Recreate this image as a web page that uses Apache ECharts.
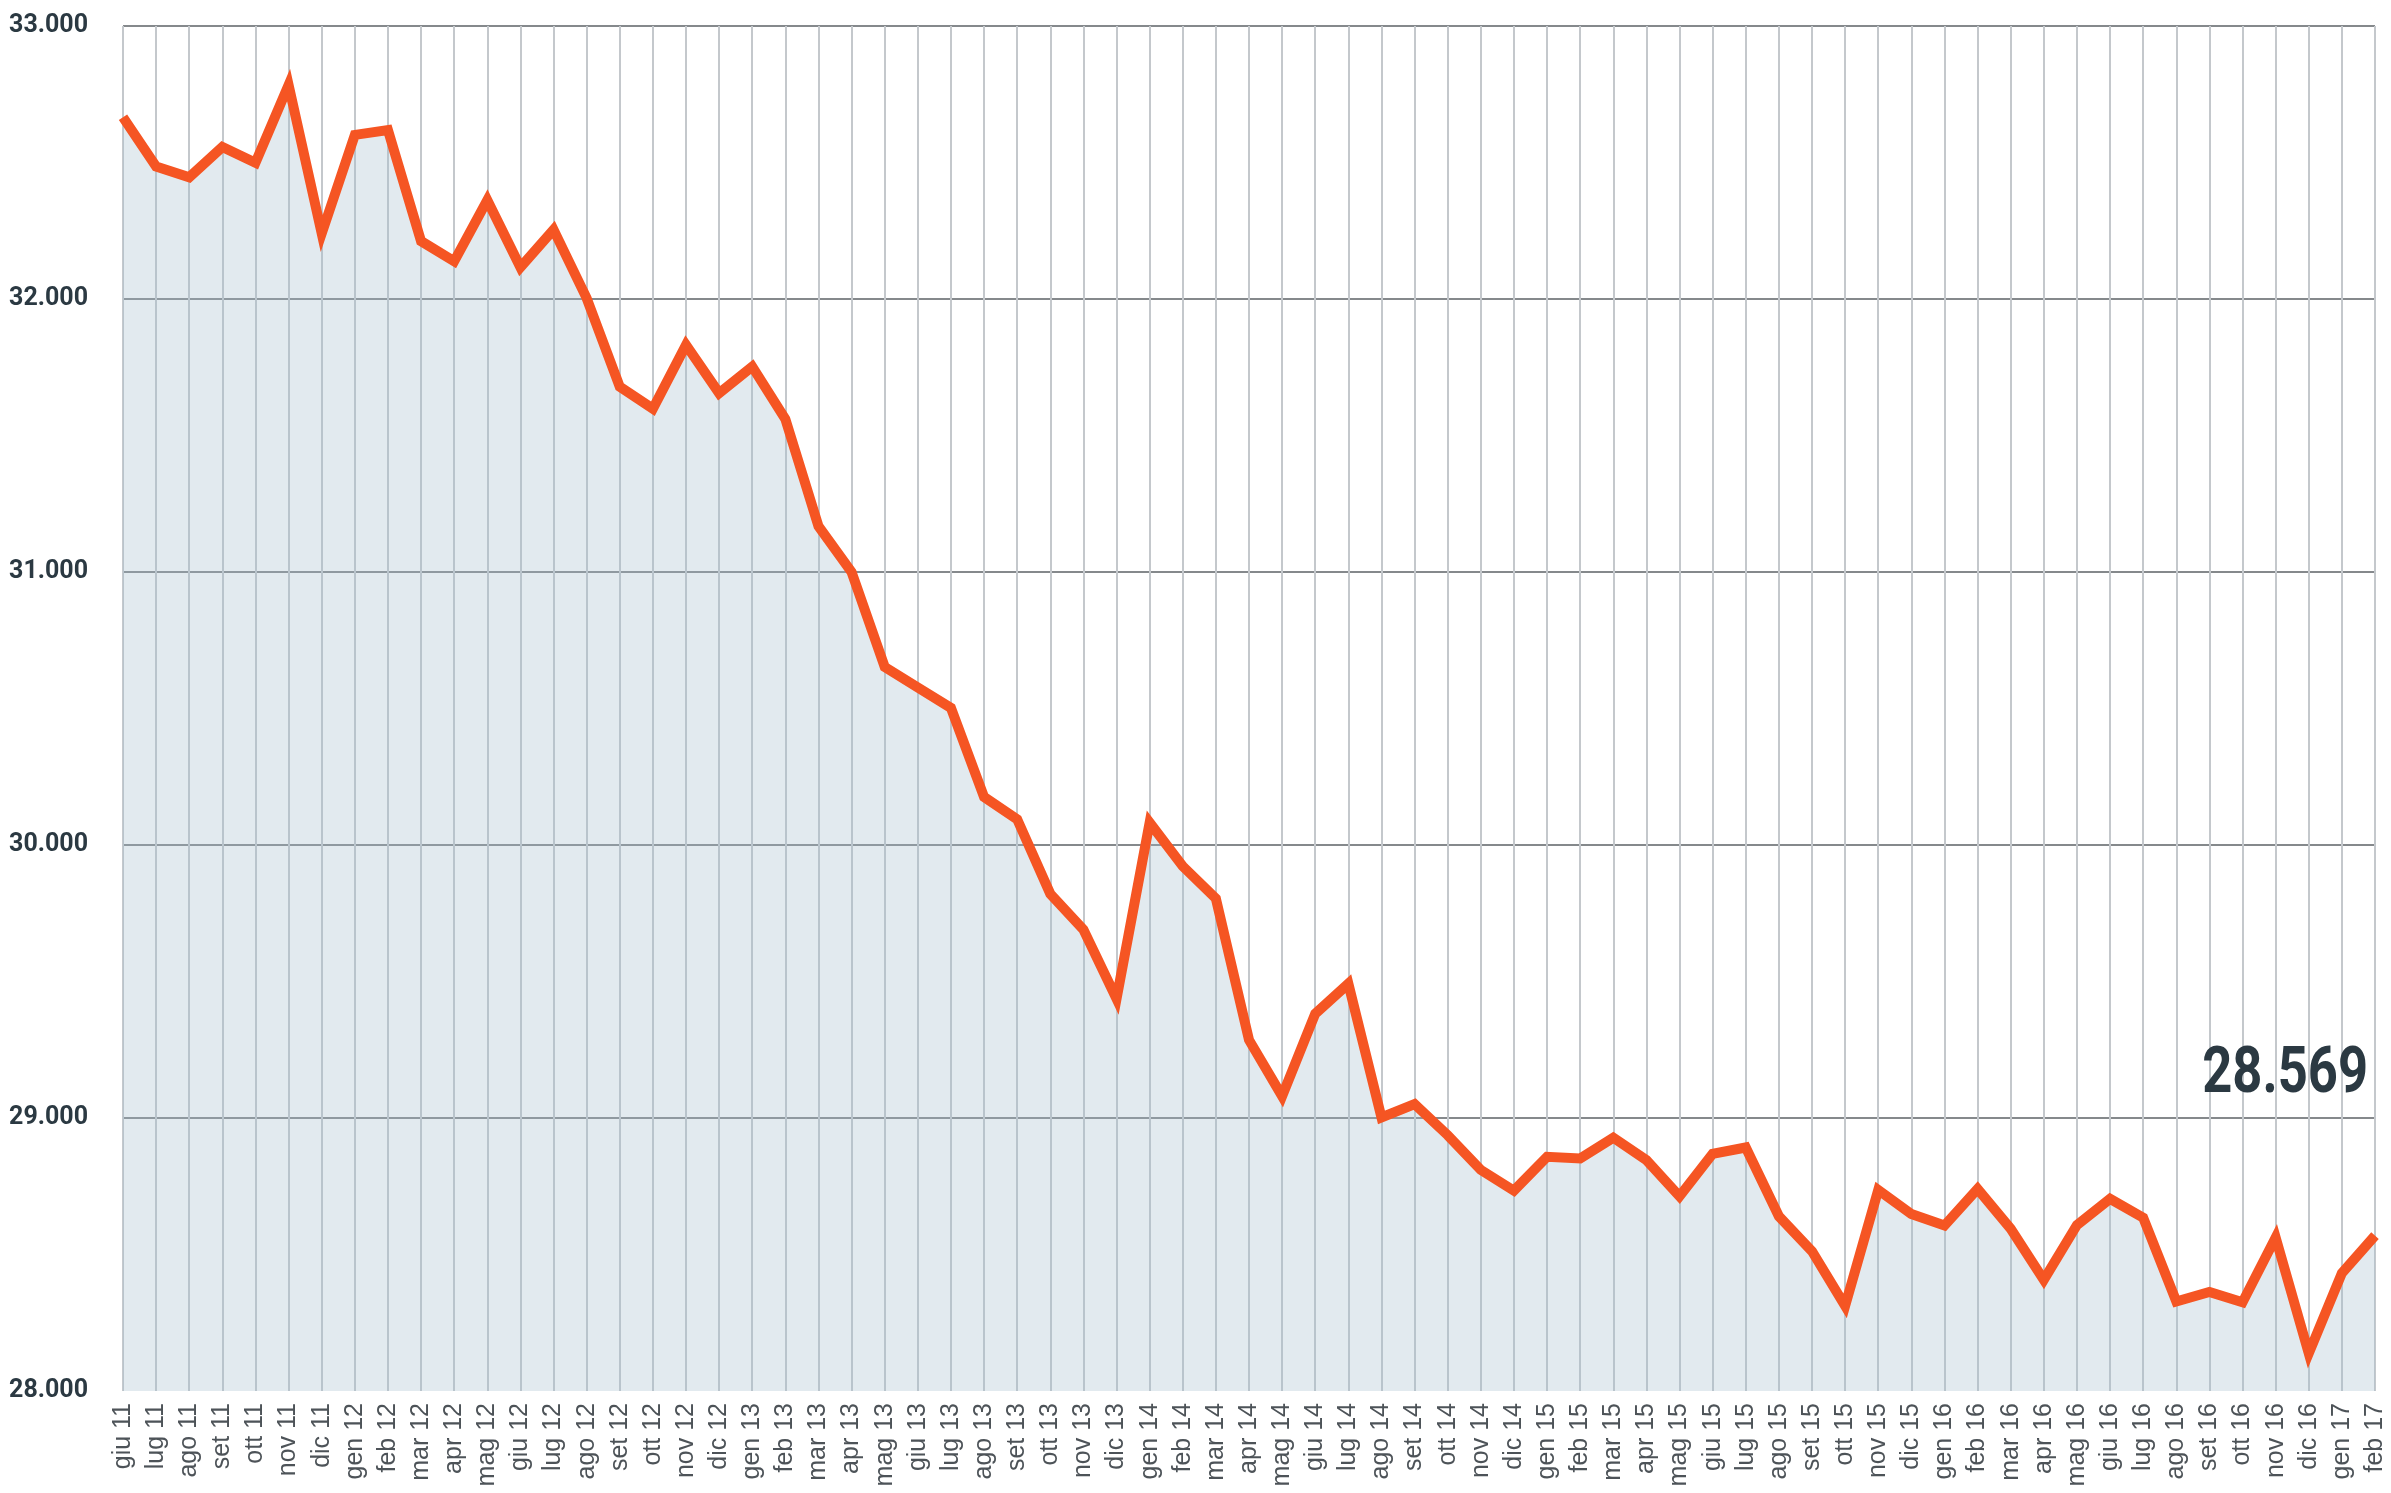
<!DOCTYPE html>
<html>
<head>
<meta charset="utf-8">
<script src="https://cdn.jsdelivr.net/npm/echarts@6/dist/echarts.min.js"></script>
<style>
  html, body { margin: 0; padding: 0; background: #fff; }
  #main { width: 2391px; height: 1493px; }
</style>
</head>
<body>
<div id="main"></div>
<script>
// mesi (giu 11 - feb 17)
const mesi = [
  'giu 11','lug 11','ago 11','set 11','ott 11','nov 11','dic 11',
  'gen 12','feb 12','mar 12','apr 12','mag 12','giu 12','lug 12','ago 12','set 12','ott 12','nov 12','dic 12',
  'gen 13','feb 13','mar 13','apr 13','mag 13','giu 13','lug 13','ago 13','set 13','ott 13','nov 13','dic 13',
  'gen 14','feb 14','mar 14','apr 14','mag 14','giu 14','lug 14','ago 14','set 14','ott 14','nov 14','dic 14',
  'gen 15','feb 15','mar 15','apr 15','mag 15','giu 15','lug 15','ago 15','set 15','ott 15','nov 15','dic 15',
  'gen 16','feb 16','mar 16','apr 16','mag 16','giu 16','lug 16','ago 16','set 16','ott 16','nov 16','dic 16',
  'gen 17','feb 17'
];

const valori = [
  32666, 32485, 32446, 32557, 32499, 32784, 32240, 32601, 32619, 32212,
  32138, 32362, 32116, 32254, 32003, 31679, 31598, 31832, 31655, 31752,
  31560, 31168, 31000, 30652, 30577, 30502, 30176, 30094, 29821, 29690,
  29437, 30082, 29922, 29804, 29286, 29080, 29382, 29492, 29002, 29051,
  28937, 28810, 28734, 28858, 28852, 28928, 28846, 28713, 28869, 28892,
  28640, 28512, 28312, 28736, 28648, 28606, 28740, 28594, 28407, 28608,
  28704, 28635, 28328, 28363, 28325, 28562, 28138, 28432, 28569
];

const yMin = 28000, yMax = 33000, yStep = 1000;
const ultimo = '28.569';

// 33000 -> "33.000"
function fmt(v) {
  const k = Math.floor(v / 1000);
  const r = String(v % 1000).padStart(3, '0');
  return k + '.' + r;
}

const chart = echarts.init(document.getElementById('main'));

const option = {
  animation: false,
  grid: { left: 123, right: 16, top: 26, bottom: 102, containLabel: false, outerBoundsMode: 'none' },
  xAxis: {
    type: 'category',
    data: mesi,
    boundaryGap: false,
    axisLine: { show: false },
    axisTick: { show: false },
    axisLabel: {
      interval: 0,
      rotate: 90,
      margin: 12,
      fontSize: 25,
      color: '#4d5358',
      fontFamily: '"Liberation Sans", Arial, sans-serif'
    },
    splitLine: {
      show: true,
      interval: 0,
      lineStyle: { color: '#c4c8cc', width: 2 }
    }
  },
  yAxis: {
    type: 'value',
    min: yMin,
    max: yMax,
    interval: yStep,
    axisLine: { show: false },
    axisTick: { show: false },
    axisLabel: {
      margin: 35,
      fontSize: 25,
      fontWeight: 'bold',
      color: '#2b3942',
      fontFamily: 'Roboto, sans-serif',
      formatter: fmt
    },
    splitLine: {
      lineStyle: {
        color: ['rgba(0,0,0,0)', '#5d6266', '#5d6266', '#5d6266', '#5d6266', '#5d6266'],
        width: 1.5
      }
    }
  },
  series: [{
    type: 'line',
    data: valori,
    symbol: 'none',
    z: 3,
    lineStyle: { color: '#f55523', width: 10, join: 'miter', miterLimit: 10 },
    areaStyle: { color: 'rgba(165,190,206,0.45)', origin: 'start' }
  }],
  graphic: [{
    type: 'text',
    x: 2368,
    y: 1076,
    scaleX: 0.82,
    z: 10,
    style: {
      text: ultimo,
      font: 'bold 64px Roboto, sans-serif',
      fill: '#2b3942',
      textAlign: 'right',
      textVerticalAlign: 'middle'
    }
  }]
};

chart.setOption(option);
</script>
</body>
</html>
